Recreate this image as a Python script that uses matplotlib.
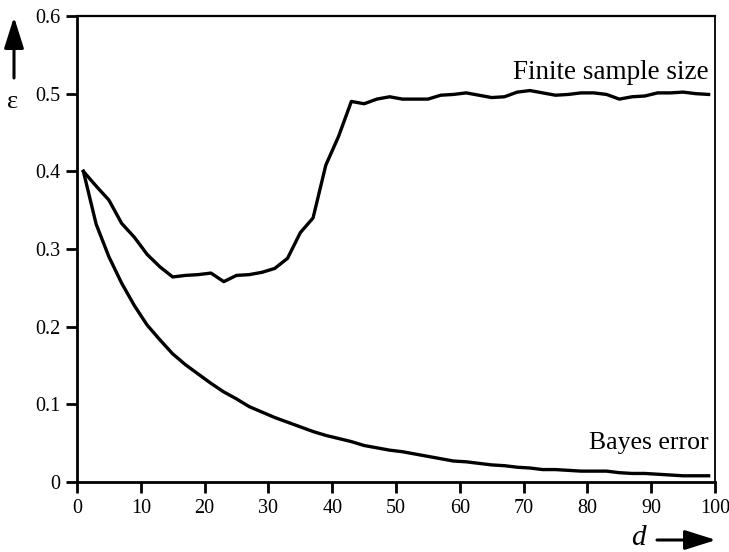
import matplotlib
matplotlib.use("Agg")
import matplotlib.pyplot as plt

# dimensionality d (sampled every 2)
d_values = list(range(1, 100, 2))

# error with a finite training set
finite_error = [
    0.400, 0.381, 0.363, 0.333, 0.315, 0.293, 0.277, 0.264, 0.266, 0.267,
    0.269, 0.258, 0.266, 0.267, 0.270, 0.275, 0.288, 0.321, 0.340, 0.408,
    0.445, 0.490, 0.487, 0.493, 0.496, 0.493, 0.493, 0.493, 0.498, 0.499,
    0.501, 0.498, 0.495, 0.496, 0.502, 0.504, 0.501, 0.498, 0.499, 0.501,
    0.501, 0.499, 0.493, 0.496, 0.497, 0.501, 0.501, 0.502, 0.500, 0.499,
]

# Bayes error
bayes_error = [
    0.400, 0.332, 0.290, 0.256, 0.227, 0.202, 0.183, 0.165, 0.151, 0.139,
    0.127, 0.116, 0.107, 0.097, 0.090, 0.083, 0.077, 0.071, 0.065, 0.060,
    0.056, 0.052, 0.047, 0.044, 0.041, 0.039, 0.036, 0.033, 0.030, 0.027,
    0.026, 0.024, 0.022, 0.021, 0.019, 0.018, 0.016, 0.016, 0.015, 0.014,
    0.014, 0.014, 0.012, 0.011, 0.011, 0.010, 0.009, 0.008, 0.008, 0.008,
]

x_ticks = [0, 10, 20, 30, 40, 50, 60, 70, 80, 90, 100]
y_ticks = [0, 0.1, 0.2, 0.3, 0.4, 0.5, 0.6]
y_tick_labels = ["0", "0.1", "0.2", "0.3", "0.4", "0.5", "0.6"]

plt.rcParams["font.family"] = ["Liberation Serif", "DejaVu Serif"]

fig = plt.figure(figsize=(7.29, 5.52), dpi=100)
ax = fig.add_axes([77 / 729, 70 / 552, 638 / 729, 466 / 552])

ax.plot(d_values, finite_error, color="black", lw=2.4, solid_joinstyle="round")
ax.plot(d_values, bayes_error, color="black", lw=2.4, solid_joinstyle="round")

ax.set_xlim(0, 100)
ax.set_ylim(0, 0.6)
ax.set_xticks(x_ticks)
ax.set_yticks(y_ticks)
ax.set_yticklabels(y_tick_labels)
ax.tick_params(direction="out", length=8, width=2.0, labelsize=14.5, pad=4)

ax.spines["left"].set_linewidth(2.0)
ax.spines["bottom"].set_linewidth(2.0)
ax.spines["top"].set_linewidth(1.6)
ax.spines["right"].set_linewidth(1.3)

ax.text(99, 0.527, "Finite sample size", ha="right", va="center", fontsize=19.5)
ax.text(99, 0.050, "Bayes error", ha="right", va="center", fontsize=18.5)

# axis arrows and symbols in figure pixels
arrow_props = dict(arrowstyle="-|>,head_length=1.9,head_width=0.6",
                   color="black", lw=2.2, shrinkA=0, shrinkB=0)
ax.annotate("", xy=(14, 535), xytext=(14, 474), xycoords="figure pixels",
            textcoords="figure pixels", arrowprops=arrow_props)
ax.annotate("", xy=(716, 12), xytext=(657, 12), xycoords="figure pixels",
            textcoords="figure pixels", arrowprops=arrow_props)
fig.text(13 / 729, 450 / 552, "ε", ha="center", va="center", fontsize=19)
fig.text(638 / 729, 14 / 552, "d", ha="center", va="center", fontsize=21,
         style="italic")

fig.savefig("out.png", dpi=100)
